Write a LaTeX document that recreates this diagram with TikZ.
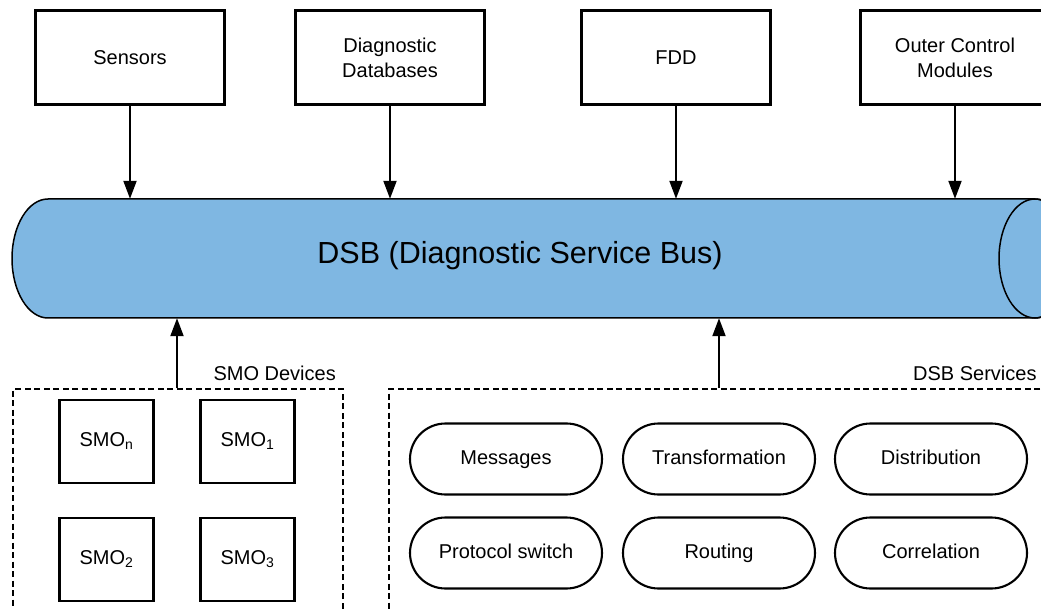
\documentclass[tikz,border=0pt]{standalone}
\usepackage{fontspec}
\setmainfont{Liberation Sans}
\usetikzlibrary{arrows.meta,shapes.misc}
\definecolor{busblue}{RGB}{127,183,226}
\begin{document}
\begin{tikzpicture}[x=1pt,y=1pt,
  font=\fontsize{20}{25}\selectfont,
  topbox/.style={draw,line width=2.1pt,minimum width=189pt,minimum height=94pt,inner sep=0pt,align=center},
  smobox/.style={draw,line width=2.1pt,minimum width=94pt,minimum height=83pt,inner sep=0pt,text height=14.5pt,text depth=4pt},
  pill/.style={draw,line width=2.1pt,rounded rectangle,minimum width=192pt,minimum height=71pt,inner sep=0pt,text height=14.5pt,text depth=4pt},
  group/.style={draw,line width=2pt,dash pattern=on 6pt off 3.5pt,inner sep=0pt},
  conn/.style={line width=2pt,-{Triangle[length=18pt,width=13pt]}},
  lbl/.style={inner sep=0pt}]
\useasboundingbox (0,0) rectangle (1041,-609);
\clip (0,0) rectangle (1041,-609);

% top boxes
\node[topbox] (sensors) at (130,-57.5) {Sensors};
\node[topbox] (diagdb) at (390,-57.5) {Diagnostic\\Databases};
\node[topbox] (fdd) at (676,-57.5) {FDD};
\node[topbox] (outer) at (955,-57.5) {Outer Control\\Modules};

% bus (cylinder)
\node[inner sep=0pt,minimum width=1059pt,minimum height=119pt] (bus) at (541.5,-258.5) {};
\filldraw[fill=busblue,line width=1.5pt]
  (48,-199) -- (1035,-199) arc[start angle=90,end angle=-90,x radius=36,y radius=59.5]
  -- (48,-318) arc[start angle=270,end angle=90,x radius=36,y radius=59.5] -- cycle;
\draw[line width=1.5pt] (1035,-258.5) ellipse[x radius=36,y radius=59.5];
\node[lbl,font=\fontsize{30.5}{34}\selectfont] (buslabel) at (520,-256) {DSB (Diagnostic Service Bus)};

% arrows from top boxes
\foreach \b in {sensors,diagdb,fdd,outer}
  \draw[conn] (\b.south) -- (\b.south |- bus.north);

% SMO devices group
\node[group,minimum width=330pt,minimum height=260pt,anchor=north west] (smogrp) at (12,-388) {};
\node[lbl,anchor=base east] (smolbl) at (336,-381) {SMO Devices};
\node[smobox] (smon) at (106.5,-441.5) {SMO\textsubscript{n}};
\node[smobox] (smo1) at (247.5,-441.5) {SMO\textsubscript{1}};
\node[smobox] (smo2) at (106.5,-559.5) {SMO\textsubscript{2}};
\node[smobox] (smo3) at (247.5,-559.5) {SMO\textsubscript{3}};
\coordinate (smoup) at (177,-388);
\draw[conn] (smoup) -- (smoup |- bus.south);

% DSB services group
\node[group,minimum width=680pt,minimum height=260pt,anchor=north west] (svcgrp) at (388,-388) {};
\node[lbl,anchor=base west] (svclbl) at (913,-381) {DSB Services};
\node[pill] (msg) at (506,-459) {Messages};
\node[pill] (trans) at (719,-459) {Transformation};
\node[pill] (dist) at (931,-459) {Distribution};
\node[pill] (proto) at (506,-553) {Protocol switch};
\node[pill] (rout) at (719,-553) {Routing};
\node[pill] (corr) at (931,-553) {Correlation};
\coordinate (svcup) at (719,-388);
\draw[conn] (svcup) -- (svcup |- bus.south);
\end{tikzpicture}
\end{document}
